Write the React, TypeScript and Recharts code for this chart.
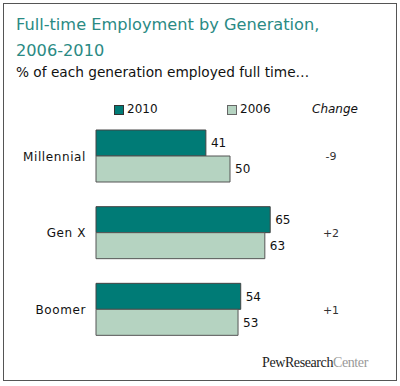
import { BarChart, Bar, XAxis, YAxis, LabelList } from 'recharts';

const generations = ['Millennial', 'Gen X', 'Boomer'];
const employed2010 = [41, 65, 54];
const employed2006 = [50, 63, 53];
const changes = ['-9', '+2', '+1'];

const data = generations.map((name, i) => ({
  name,
  y2010: employed2010[i],
  y2006: employed2006[i],
  change: changes[i],
}));

const TEAL = '#007b76';
const LIGHT = '#b5d3c1';
const FONT = '"DejaVu Sans", Verdana, sans-serif';

const ChangeTick = (props: any) => {
  const { x, y, payload } = props;
  const idx = generations.indexOf(payload.value);
  return (
    <text x={x - 41} y={y} dy={4} textAnchor="middle" fontSize={11} fill="#333" fontFamily={FONT}>
      {changes[idx]}
    </text>
  );
};

const App = () => {
  return (
    <div style={{ position: 'absolute', left: 0, top: 0, width: 400, height: 386, background: '#fff', fontFamily: FONT }}>
      <div style={{ position: 'absolute', left: 3, top: 3, width: 394, height: 378, border: '1px solid #555', boxSizing: 'border-box' }} />
      <div style={{ position: 'absolute', left: 16, top: 12, fontSize: 16.2, lineHeight: '26px', color: '#2a8a84' }}>
        Full-time Employment by Generation,<br />2006-2010
      </div>
      <div style={{ position: 'absolute', left: 16, top: 64, fontSize: 13.7, color: '#111' }}>
        % of each generation employed full time…
      </div>
      <div style={{ position: 'absolute', left: 0, top: 102, width: 400, height: 16, fontSize: 12, color: '#111' }}>
        <span style={{ position: 'absolute', left: 114, top: 3, width: 8, height: 8, background: TEAL, border: '1px solid #333' }} />
        <span style={{ position: 'absolute', left: 127, top: 0 }}>2010</span>
        <span style={{ position: 'absolute', left: 227, top: 3, width: 8, height: 8, background: LIGHT, border: '1px solid #666' }} />
        <span style={{ position: 'absolute', left: 240, top: 0 }}>2006</span>
        <span style={{ position: 'absolute', left: 312, top: 0, fontStyle: 'italic' }}>Change</span>
      </div>
      <BarChart
        width={400}
        height={386}
        data={data}
        layout="vertical"
        margin={{ top: 118, right: 0, bottom: 38, left: 0 }}
        barGap={0}
        barSize={26}
        style={{ position: 'absolute', left: 0, top: 0 }}
      >
        <XAxis type="number" domain={[0, 100]} hide />
        <YAxis
          yAxisId="cat"
          type="category"
          dataKey="name"
          width={96}
          axisLine={false}
          tickLine={false}
          tickMargin={4}
          tick={{ fontSize: 12, fill: '#111', fontFamily: FONT, letterSpacing: 0.6 }}
        />
        <YAxis
          yAxisId="chg"
          orientation="right"
          type="category"
          dataKey="name"
          width={36}
          axisLine={false}
          tickLine={false}
          tick={<ChangeTick />}
        />
        <Bar dataKey="y2010" yAxisId="cat" fill={TEAL} stroke="#444" strokeWidth={1} isAnimationActive={false}>
          <LabelList dataKey="y2010" position="right" offset={5} fontSize={12} fill="#111" fontFamily={FONT} />
        </Bar>
        <Bar dataKey="y2006" yAxisId="cat" fill={LIGHT} stroke="#555" strokeWidth={1} isAnimationActive={false}>
          <LabelList dataKey="y2006" position="right" offset={5} fontSize={12} fill="#111" fontFamily={FONT} />
        </Bar>
      </BarChart>
      <div style={{ position: 'absolute', left: 262, top: 355, fontSize: 14, fontFamily: '"Liberation Serif", serif', letterSpacing: -0.4 }}>
        <span style={{ color: '#222' }}>PewResearch</span>
        <span style={{ color: '#999' }}>Center</span>
      </div>
    </div>
  );
};

export default App;
